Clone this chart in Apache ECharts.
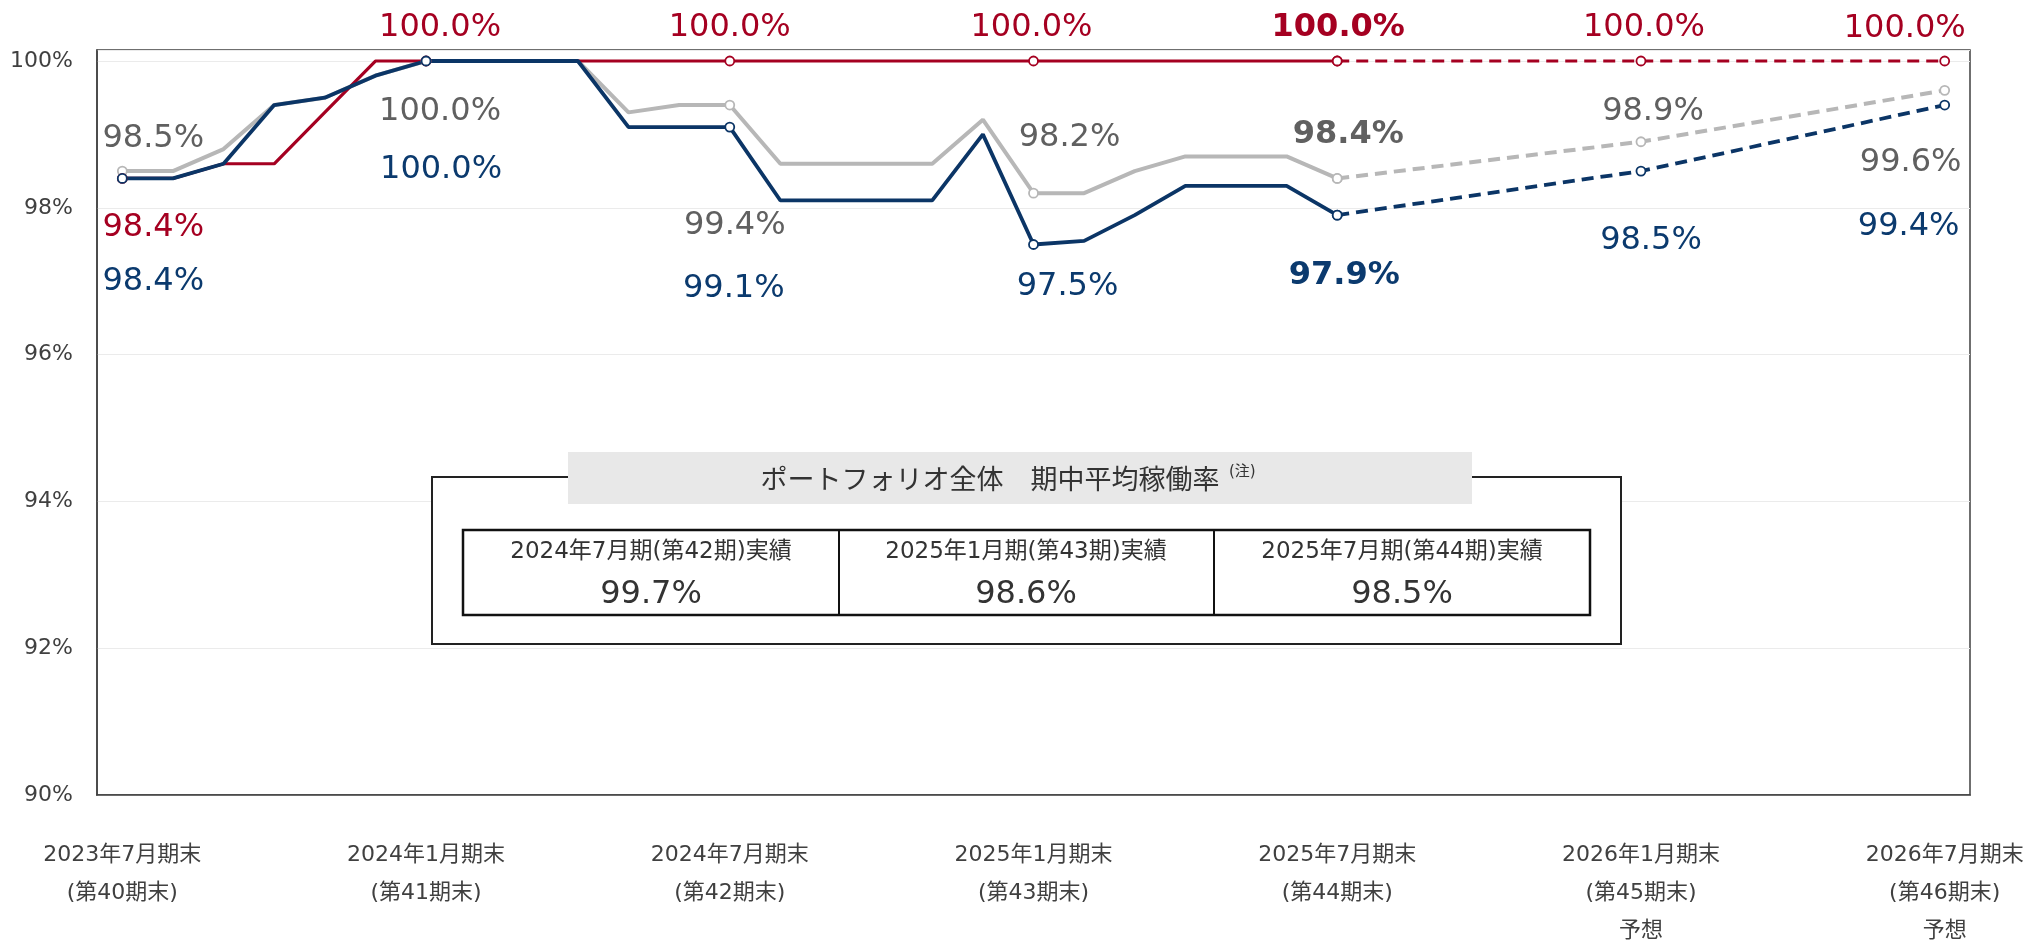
<!DOCTYPE html>
<html lang="ja">
<head>
<meta charset="utf-8">
<title>稼働率推移</title>
<script src="https://cdn.jsdelivr.net/npm/echarts@6/dist/echarts.min.js"></script>
<style>
html, body { margin: 0; padding: 0; background: #fff; }
#main { width: 2030px; height: 940px; }
</style>
</head>
<body>
<div id="main"></div>
<script>
// 月次の横軸（2023年7月期末〜2026年7月期末）
const months = [
  '2023-07', '2023-08', '2023-09', '2023-10', '2023-11', '2023-12',
  '2024-01', '2024-02', '2024-03', '2024-04', '2024-05', '2024-06',
  '2024-07', '2024-08', '2024-09', '2024-10', '2024-11', '2024-12',
  '2025-01', '2025-02', '2025-03', '2025-04', '2025-05', '2025-06',
  '2025-07', '2025-08', '2025-09', '2025-10', '2025-11', '2025-12',
  '2026-01', '2026-02', '2026-03', '2026-04', '2026-05', '2026-06',
  '2026-07'
];
// 目盛ラベル（期末）
const tickMonths = ['2023-07', '2024-01', '2024-07', '2025-01', '2025-07', '2026-01', '2026-07'];
const tickLabels = [
  '2023年7月期末\n(第40期末)',
  '2024年1月期末\n(第41期末)',
  '2024年7月期末\n(第42期末)',
  '2025年1月期末\n(第43期末)',
  '2025年7月期末\n(第44期末)',
  '2026年1月期末\n(第45期末)\n予想',
  '2026年7月期末\n(第46期末)\n予想'
];
const boldMonth = '2025-07';

// 実績（2023年7月〜2025年7月）
const actualMonths = months.slice(0, 25);
const grayActual = [98.5, 98.5, 98.8, 99.4, 99.5, 99.8, 100, 100, 100, 100, 99.3, 99.4,
                    99.4, 98.6, 98.6, 98.6, 98.6, 99.2, 98.2, 98.2, 98.5, 98.7, 98.7, 98.7, 98.4];
const redActual = [98.4, 98.4, 98.6, 98.6, 99.3, 100, 100, 100, 100, 100, 100, 100,
                   100, 100, 100, 100, 100, 100, 100, 100, 100, 100, 100, 100, 100];
const blueActual = [98.4, 98.4, 98.6, 99.4, 99.5, 99.8, 100, 100, 100, 100, 99.1, 99.1,
                    99.1, 98.1, 98.1, 98.1, 98.1, 99.0, 97.5, 97.55, 97.9, 98.3, 98.3, 98.3, 97.9];

// 予想
const forecastMonths = ['2025-07', '2026-01', '2026-07'];
const grayForecast = [98.4, 98.9, 99.6];
const redForecast = [100, 100, 100];
const blueForecast = [97.9, 98.5, 99.4];

// 表（期中平均稼働率）
const tableHeads = ['2024年7月期(第42期)実績', '2025年1月期(第43期)実績', '2025年7月期(第44期)実績'];
const tableValues = ['99.7%', '98.6%', '98.5%'];
const boxTitle = 'ポートフォリオ全体　期中平均稼働率';
const boxNote = '(注)';

// ラベル位置（点からのずれ px、期末ごと）
const labelOffsets = {
  gray: [[31, -32], [14, 51], [5, 121], [36, -55], [11, -44], [12, -30], [-34, 72]],
  red:  [[31, 49], [14, -33], [0, -33], [-2, -33], [1, -33], [3, -33], [-40, -32]],
  blue: [[31, 103], [15, 109], [4, 162], [34, 42], [7, 61], [10, 70], [-36, 122]]
};

const FONT = '"DejaVu Sans", "Noto Sans CJK JP", sans-serif';
const COLORS = {
  gray: { line: '#B7B7B7', text: '#606060' },
  red: { line: '#A50021', text: '#A50021' },
  blue: { line: '#0B3566', text: '#0B3A6E' }
};

function makeData(ms, vals, key, skipFirstLabel) {
  return ms.map(function (m, i) {
    const k = tickMonths.indexOf(m);
    if (k < 0) return { value: [m, vals[i]], symbol: 'none' };
    const item = { value: [m, vals[i]], symbol: 'circle' };
    if (!(skipFirstLabel && i === 0)) {
      item.label = {
        show: true,
        offset: labelOffsets[key][k],
        fontWeight: m === boldMonth ? 'bold' : 'normal'
      };
    }
    return item;
  });
}

function lineSeries(key, data, dashed, width) {
  const c = COLORS[key];
  return {
    type: 'line',
    data: data,
    showSymbol: true,
    showAllSymbol: true,
    symbolSize: 9,
    clip: false,
    lineStyle: { color: c.line, width: width, type: dashed ? [12, 7] : 'solid' },
    itemStyle: { color: '#fff', borderColor: c.line, borderWidth: 1.8 },
    label: {
      show: false,
      position: 'inside',
      color: c.text,
      fontSize: 32,
      fontFamily: FONT,
      textBorderWidth: 0,
      formatter: function (p) { return p.value[1].toFixed(1) + '%'; }
    },
    emphasis: { disabled: true }
  };
}

const chart = echarts.init(document.getElementById('main'));

const option = {
  animation: false,
  backgroundColor: '#fff',
  grid: {
    left: 97, right: 60, top: 50, bottom: 145,
    containLabel: false,
    outerBoundsMode: 'none',
    show: true, borderColor: '#404040', borderWidth: 1.5
  },
  xAxis: {
    type: 'category',
    data: months,
    boundaryGap: true,
    axisLine: { show: true, lineStyle: { color: '#404040', width: 1.5 } },
    axisTick: { show: false },
    splitLine: { show: false },
    axisLabel: {
      interval: function (i) { return i % 6 === 0; },
      formatter: function (v) {
        const k = tickMonths.indexOf(v);
        return k < 0 ? '' : tickLabels[k];
      },
      color: '#404040',
      fontSize: 22,
      fontFamily: FONT,
      lineHeight: 38,
      margin: 41,
      verticalAlign: 'top'
    }
  },
  yAxis: {
    type: 'value',
    min: 90,
    max: 100.15,
    interval: 2,
    axisLine: { show: true, lineStyle: { color: '#404040', width: 1.5 } },
    axisTick: { show: false },
    splitLine: { lineStyle: { color: '#EBEBEB', width: 1.2 } },
    axisLabel: {
      color: '#404040',
      fontSize: 22,
      fontFamily: FONT,
      margin: 24,
      formatter: function (v) {
        return Math.abs(v - Math.round(v)) < 1e-6 && Math.round(v) % 2 === 0 ? Math.round(v) + '%' : '';
      }
    }
  },
  series: [
    lineSeries('gray', makeData(actualMonths, grayActual, 'gray', false), false, 4),
    lineSeries('gray', makeData(forecastMonths, grayForecast, 'gray', true), true, 4),
    lineSeries('red', makeData(actualMonths, redActual, 'red', false), false, 3.2),
    lineSeries('red', makeData(forecastMonths, redForecast, 'red', true), true, 3.2),
    lineSeries('blue', makeData(actualMonths, blueActual, 'blue', false), false, 3.8),
    lineSeries('blue', makeData(forecastMonths, blueForecast, 'blue', true), true, 3.8)
  ],
  graphic: [
    { type: 'rect', z: 100, shape: { x: 432, y: 477, width: 1189, height: 167 },
      style: { fill: '#fff', stroke: '#222', lineWidth: 2 } },
    { type: 'rect', z: 101, shape: { x: 568, y: 452, width: 904, height: 52 },
      style: { fill: '#E8E8E8' } },
    { type: 'text', z: 102, x: 990, y: 479,
      style: { text: boxTitle, fill: '#333', fontSize: 27, fontFamily: '"Noto Sans CJK JP", sans-serif',
               align: 'center', verticalAlign: 'middle' } },
    { type: 'text', z: 102, x: 1229, y: 472,
      style: { text: boxNote, fill: '#333', fontSize: 15, fontFamily: FONT,
               align: 'left', verticalAlign: 'middle' } },
    { type: 'rect', z: 102, shape: { x: 463, y: 530, width: 1127, height: 85 },
      style: { fill: '#fff', stroke: '#111', lineWidth: 2.5 } },
    { type: 'line', z: 103, shape: { x1: 839, y1: 530, x2: 839, y2: 615 },
      style: { stroke: '#111', lineWidth: 2 } },
    { type: 'line', z: 103, shape: { x1: 1214, y1: 530, x2: 1214, y2: 615 },
      style: { stroke: '#111', lineWidth: 2 } }
  ]
};

// 表の文字
const colCenters = [651, 1026, 1402];
tableHeads.forEach(function (t, i) {
  option.graphic.push({ type: 'text', z: 104, x: colCenters[i], y: 552,
    style: { text: t, fill: '#333', fontSize: 23, fontFamily: FONT, align: 'center', verticalAlign: 'middle' } });
  option.graphic.push({ type: 'text', z: 104, x: colCenters[i], y: 595,
    style: { text: tableValues[i], fill: '#333', fontSize: 32, fontFamily: FONT, align: 'center', verticalAlign: 'middle' } });
});

chart.setOption(option);
</script>
</body>
</html>
